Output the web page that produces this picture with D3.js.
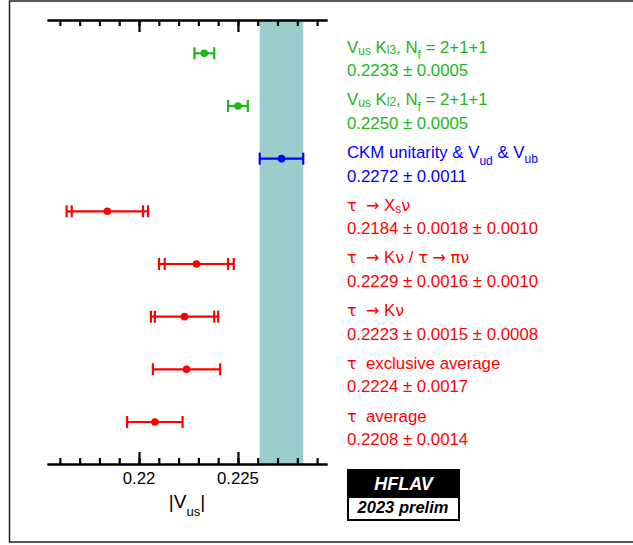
<!DOCTYPE html>
<html>
<head>
<meta charset="utf-8">
<script src="https://cdn.jsdelivr.net/npm/d3@7"></script>
<style>
    body { margin: 0; background: #fff; }
    text { font-family: "Liberation Sans", Arial, Helvetica, sans-serif; white-space: pre; }
    .sym { font-family: "DejaVu Sans", sans-serif; }
</style>
</head>
<body>
<div id="chart"></div>
<script>
// Measurements of |Vus|
const rowNames = ["Kl3", "Kl2", "CKM", "tauXs", "tauKpi", "tauK", "tauExcl", "tauAvg"];
const vusValues = [0.2233, 0.2250, 0.2272, 0.2184, 0.2229, 0.2223, 0.2224, 0.2208];
const statErrors = [0.0005, 0.0005, 0.0011, 0.0018, 0.0016, 0.0015, 0.0017, 0.0014];
const systErrors = [0, 0, 0, 0.0010, 0.0010, 0.0008, 0, 0];
const rowColors = ["#1db41d", "#1db41d", "#0000ff", "#ff0000", "#ff0000", "#ff0000", "#ff0000", "#ff0000"];
const valueLabels = [
    "0.2233 \u00b1 0.0005",
    "0.2250 \u00b1 0.0005",
    "0.2272 \u00b1 0.0011",
    "0.2184 \u00b1 0.0018 \u00b1 0.0010",
    "0.2229 \u00b1 0.0016 \u00b1 0.0010",
    "0.2223 \u00b1 0.0015 \u00b1 0.0008",
    "0.2224 \u00b1 0.0017",
    "0.2208 \u00b1 0.0014"
];
// title pieces: [text, subscript shift (0 = normal), symbol font?]
const titleParts = [
    [["V", 0], ["us", 2], [" K", 0], ["l3", 1], [", N", 0], ["f", 6], [" = 2+1+1", 0]],
    [["V", 0], ["us", 2], [" K", 0], ["l2", 1], [", N", 0], ["f", 6], [" = 2+1+1", 0]],
    [["CKM unitarity & V", 0], ["ud", 7], [" & V", 0], ["ub", 5]],
    [["\u03c4", 0, 1], ["  ", 0], ["\u2192", 0, 1], [" X", 0], ["s", 2], ["\u03bd", 0, 1]],
    [["\u03c4", 0, 1], ["  ", 0], ["\u2192", 0, 1], [" K", 0], ["\u03bd", 0, 1], [" / ", 0], ["\u03c4", 0, 1], [" ", 0], ["\u2192", 0, 1], [" ", 0], ["\u03c0\u03bd", 0, 1]],
    [["\u03c4", 0, 1], ["  ", 0], ["\u2192", 0, 1], [" K", 0], ["\u03bd", 0, 1]],
    [["\u03c4", 0, 1], ["  exclusive average", 0]],
    [["\u03c4", 0, 1], ["  average", 0]]
];
const xDomain = [0.21535, 0.2295];
const minorTicks = d3.range(0.216, 0.2295, 0.001);
const majorTicks = [0.22, 0.225];
const majorLabels = ["0.22", "0.225"];
const bandCenter = 0.2272, bandHalf = 0.0011;

const width = 633, height = 545;
const svg = d3.select("#chart").append("svg")
    .attr("width", width)
    .attr("height", height);

// outer frame
svg.append("rect")
    .attr("x", 9.5).attr("y", 1)
    .attr("width", 640).attr("height", 541)
    .attr("fill", "none")
    .attr("stroke", "#222")
    .attr("stroke-width", 1.5);

const x = d3.scaleLinear().domain(xDomain).range([47, 327]);
const y = d3.scalePoint().domain(rowNames).range([53.3, 422]);
const topY = 20, bottomY = 464;

// band for CKM unitarity
svg.append("rect")
    .attr("x", x(bandCenter - bandHalf))
    .attr("y", topY)
    .attr("width", x(bandCenter + bandHalf) - x(bandCenter - bandHalf))
    .attr("height", bottomY - topY)
    .attr("fill", "#9ccdcd");

// axes: top ticks point down, bottom ticks point up
function drawAxis(yPos, dir) {
    const g = svg.append("g").attr("transform", `translate(0,${yPos})`);
    g.append("g")
        .call(d3.axisBottom(x).tickValues(minorTicks).tickSizeInner(6 * dir).tickSizeOuter(0).tickFormat(""));
    g.append("g")
        .call(d3.axisBottom(x).tickValues(majorTicks).tickSizeInner(12 * dir).tickSizeOuter(0).tickFormat(""));
    g.selectAll("path.domain").attr("stroke", "#000").attr("stroke-width", 2.2);
    g.selectAll(".tick line").attr("stroke", "#000").attr("stroke-width", 2.2);
    return g;
}
drawAxis(topY, 1);
drawAxis(bottomY, -1);

svg.selectAll("text.xlab")
    .data(majorTicks)
    .enter().append("text")
    .attr("class", "xlab")
    .attr("x", d => x(d))
    .attr("y", 484)
    .attr("text-anchor", "middle")
    .attr("font-size", 16.8)
    .text((d, i) => majorLabels[i]);

// axis title |Vus|
const xt = svg.append("text")
    .attr("x", 187).attr("y", 508)
    .attr("text-anchor", "middle")
    .attr("font-size", 19);
xt.append("tspan").text("|V");
xt.append("tspan").attr("font-size", 13).attr("dy", 8).text("us");
xt.append("tspan").attr("dy", -8).text("|");

// error bars
const rows = rowNames.map((name, i) => ({
    name, value: vusValues[i], stat: statErrors[i], syst: systErrors[i],
    total: Math.sqrt(statErrors[i] ** 2 + systErrors[i] ** 2), color: rowColors[i]
}));

const rowG = svg.selectAll("g.row")
    .data(rows)
    .enter().append("g")
    .attr("class", "row")
    .attr("transform", d => `translate(0,${y(d.name)})`);

rowG.append("line")
    .attr("x1", d => x(d.value - d.total))
    .attr("x2", d => x(d.value + d.total))
    .attr("stroke", d => d.color)
    .attr("stroke-width", 2.2);

function caps(getErr, filter) {
    rowG.filter(filter).each(function (d) {
        const e = getErr(d);
        d3.select(this).selectAll(null)
            .data([d.value - e, d.value + e])
            .enter().append("line")
            .attr("x1", v => x(v)).attr("x2", v => x(v))
            .attr("y1", -6).attr("y2", 6)
            .attr("stroke", d.color)
            .attr("stroke-width", 2.2);
    });
}
caps(d => d.total, () => true);
caps(d => d.stat, d => d.syst > 0);

rowG.append("circle")
    .attr("cx", d => x(d.value))
    .attr("r", 3.8)
    .attr("fill", d => d.color);

// labels
const labelX = 347;
rowNames.forEach((name, i) => {
    const t = svg.append("text")
        .attr("x", labelX)
        .attr("y", y(name) - 0.5)
        .attr("font-size", 16.8)
        .attr("fill", rowColors[i]);
    let shift = 0;
    titleParts[i].forEach(([str, sub, sym]) => {
        const ts = t.append("tspan").attr("dy", sub - shift).text(str);
        if (sub) ts.attr("font-size", 12);
        if (sym) ts.attr("class", "sym").attr("font-size", 16);
        shift = sub;
    });
    svg.append("text")
        .attr("x", labelX)
        .attr("y", y(name) + 23)
        .attr("font-size", 16.8)
        .attr("fill", rowColors[i])
        .text(valueLabels[i]);
});

// HFLAV logo
svg.append("rect")
    .attr("x", 347).attr("y", 469)
    .attr("width", 113).attr("height", 28)
    .attr("fill", "#000");
svg.append("rect")
    .attr("x", 348).attr("y", 497)
    .attr("width", 111).attr("height", 23)
    .attr("fill", "#fff")
    .attr("stroke", "#000")
    .attr("stroke-width", 2);
svg.append("text")
    .attr("x", 403.5).attr("y", 489.5)
    .attr("text-anchor", "middle")
    .attr("font-size", 18)
    .attr("font-weight", "bold")
    .attr("font-style", "italic")
    .attr("fill", "#fff")
    .text("HFLAV");
svg.append("text")
    .attr("x", 403).attr("y", 513)
    .attr("text-anchor", "middle")
    .attr("font-size", 16.5)
    .attr("font-weight", "bold")
    .attr("font-style", "italic")
    .attr("fill", "#000")
    .text("2023 prelim");
</script>
</body>
</html>
